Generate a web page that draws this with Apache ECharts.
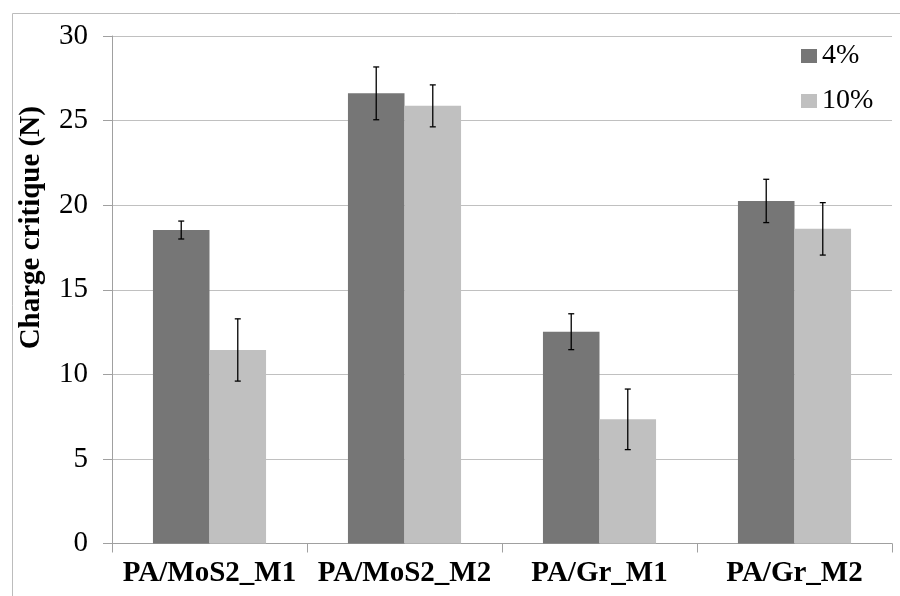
<!DOCTYPE html>
<html>
<head>
<meta charset="utf-8">
<script src="https://cdn.jsdelivr.net/npm/echarts@6/dist/echarts.min.js"></script>
<style>html,body{margin:0;padding:0;background:#fff;}#c{width:900px;height:596px;}</style>
</head>
<body>
<div id="c"></div>
<script>
var categories = ['PA/MoS2_M1', 'PA/MoS2_M2', 'PA/Gr_M1', 'PA/Gr_M2'];
var seriesNames = ['4%', '10%'];
var values4 = [18.53, 26.61, 12.52, 20.25];
var values10 = [11.44, 25.87, 7.34, 18.6];
var err4 = [0.53, 1.56, 1.06, 1.28];
var err10 = [1.84, 1.24, 1.79, 1.55];
var yTicks = [0, 5, 10, 15, 20, 25, 30];

var FONT = '"Liberation Serif", "Times New Roman", serif';
var GAP = 0.42;

function errSeries(vals, errs, side) {
  var data = vals.map(function (v, i) { return [i, v, errs[i]]; });
  return {
    type: 'custom',
    name: 'err' + side,
    silent: true,
    z: 10,
    data: data,
    encode: { x: 0, y: 1 },
    renderItem: function (params, api) {
      var i = api.value(0), v = api.value(1), e = api.value(2);
      var band = api.size([1, 0])[0];
      var bw = band * (1 - GAP) / 2;
      var c = api.coord([i, v]);
      var x = c[0] + side * bw / 2;
      var top = api.coord([i, v + e])[1];
      var bot = api.coord([i, v - e])[1];
      var hw = 3;
      var st = { stroke: '#000', lineWidth: 1.3 };
      return {
        type: 'group',
        children: [
          { type: 'line', shape: { x1: x, y1: top, x2: x, y2: bot }, style: st },
          { type: 'line', shape: { x1: x - hw, y1: top, x2: x + hw, y2: top }, style: st },
          { type: 'line', shape: { x1: x - hw, y1: bot, x2: x + hw, y2: bot }, style: st }
        ]
      };
    }
  };
}

var chart = echarts.init(document.getElementById('c'), null, { renderer: 'canvas' });
chart.setOption({
  animation: false,
  backgroundColor: '#fff',
  textStyle: { fontFamily: FONT },
  graphic: [{
    type: 'rect', left: 10, top: 11, silent: true,
    shape: { x: 0, y: 0, width: 1000, height: 1000 },
    style: { fill: 'none', stroke: '#bcbcbc', lineWidth: 1 }
  }],
  grid: { left: 112, right: 8, top: 36, bottom: 52.5, containLabel: false },
  legend: {
    orient: 'vertical', left: 796, top: 37, itemGap: 17,
    itemWidth: 16, itemHeight: 14, icon: 'rect',
    data: seriesNames,
    textStyle: { fontFamily: FONT, fontSize: 28, color: '#000' }
  },
  xAxis: {
    type: 'category', data: categories,
    axisLine: { lineStyle: { color: '#a0a0a0', width: 1 } },
    axisTick: { show: true, length: 9, lineStyle: { color: '#a0a0a0' } },
    axisLabel: { fontFamily: FONT, fontSize: 29, fontWeight: 'bold', color: '#000', margin: 16, interval: 0 }
  },
  yAxis: {
    type: 'value', min: 0, max: 30, interval: 5,
    name: 'Charge critique (N)', nameLocation: 'middle', nameGap: 66, nameRotate: 90,
    nameTextStyle: { fontFamily: FONT, fontSize: 29, fontWeight: 'bold', color: '#000', padding: [0, 0, 0, 124] },
    axisLine: { show: true, lineStyle: { color: '#a0a0a0', width: 1 } },
    axisTick: { show: true, length: 9, lineStyle: { color: '#a0a0a0' } },
    splitLine: { show: true, lineStyle: { color: '#c0c0c0', width: 1 } },
    axisLabel: {
      fontFamily: FONT, fontSize: 29, color: '#000', margin: 24,
      formatter: function (v) { return yTicks.indexOf(v) >= 0 ? String(v) : ''; }
    }
  },
  series: [
    { type: 'bar', name: seriesNames[0], data: values4, barGap: '0%', barCategoryGap: (GAP * 100) + '%',
      itemStyle: { color: '#767676' } },
    { type: 'bar', name: seriesNames[1], data: values10, barGap: '0%', barCategoryGap: (GAP * 100) + '%',
      itemStyle: { color: '#c0c0c0' } },
    errSeries(values4, err4, -1),
    errSeries(values10, err10, 1)
  ]
});
</script>
</body>
</html>
